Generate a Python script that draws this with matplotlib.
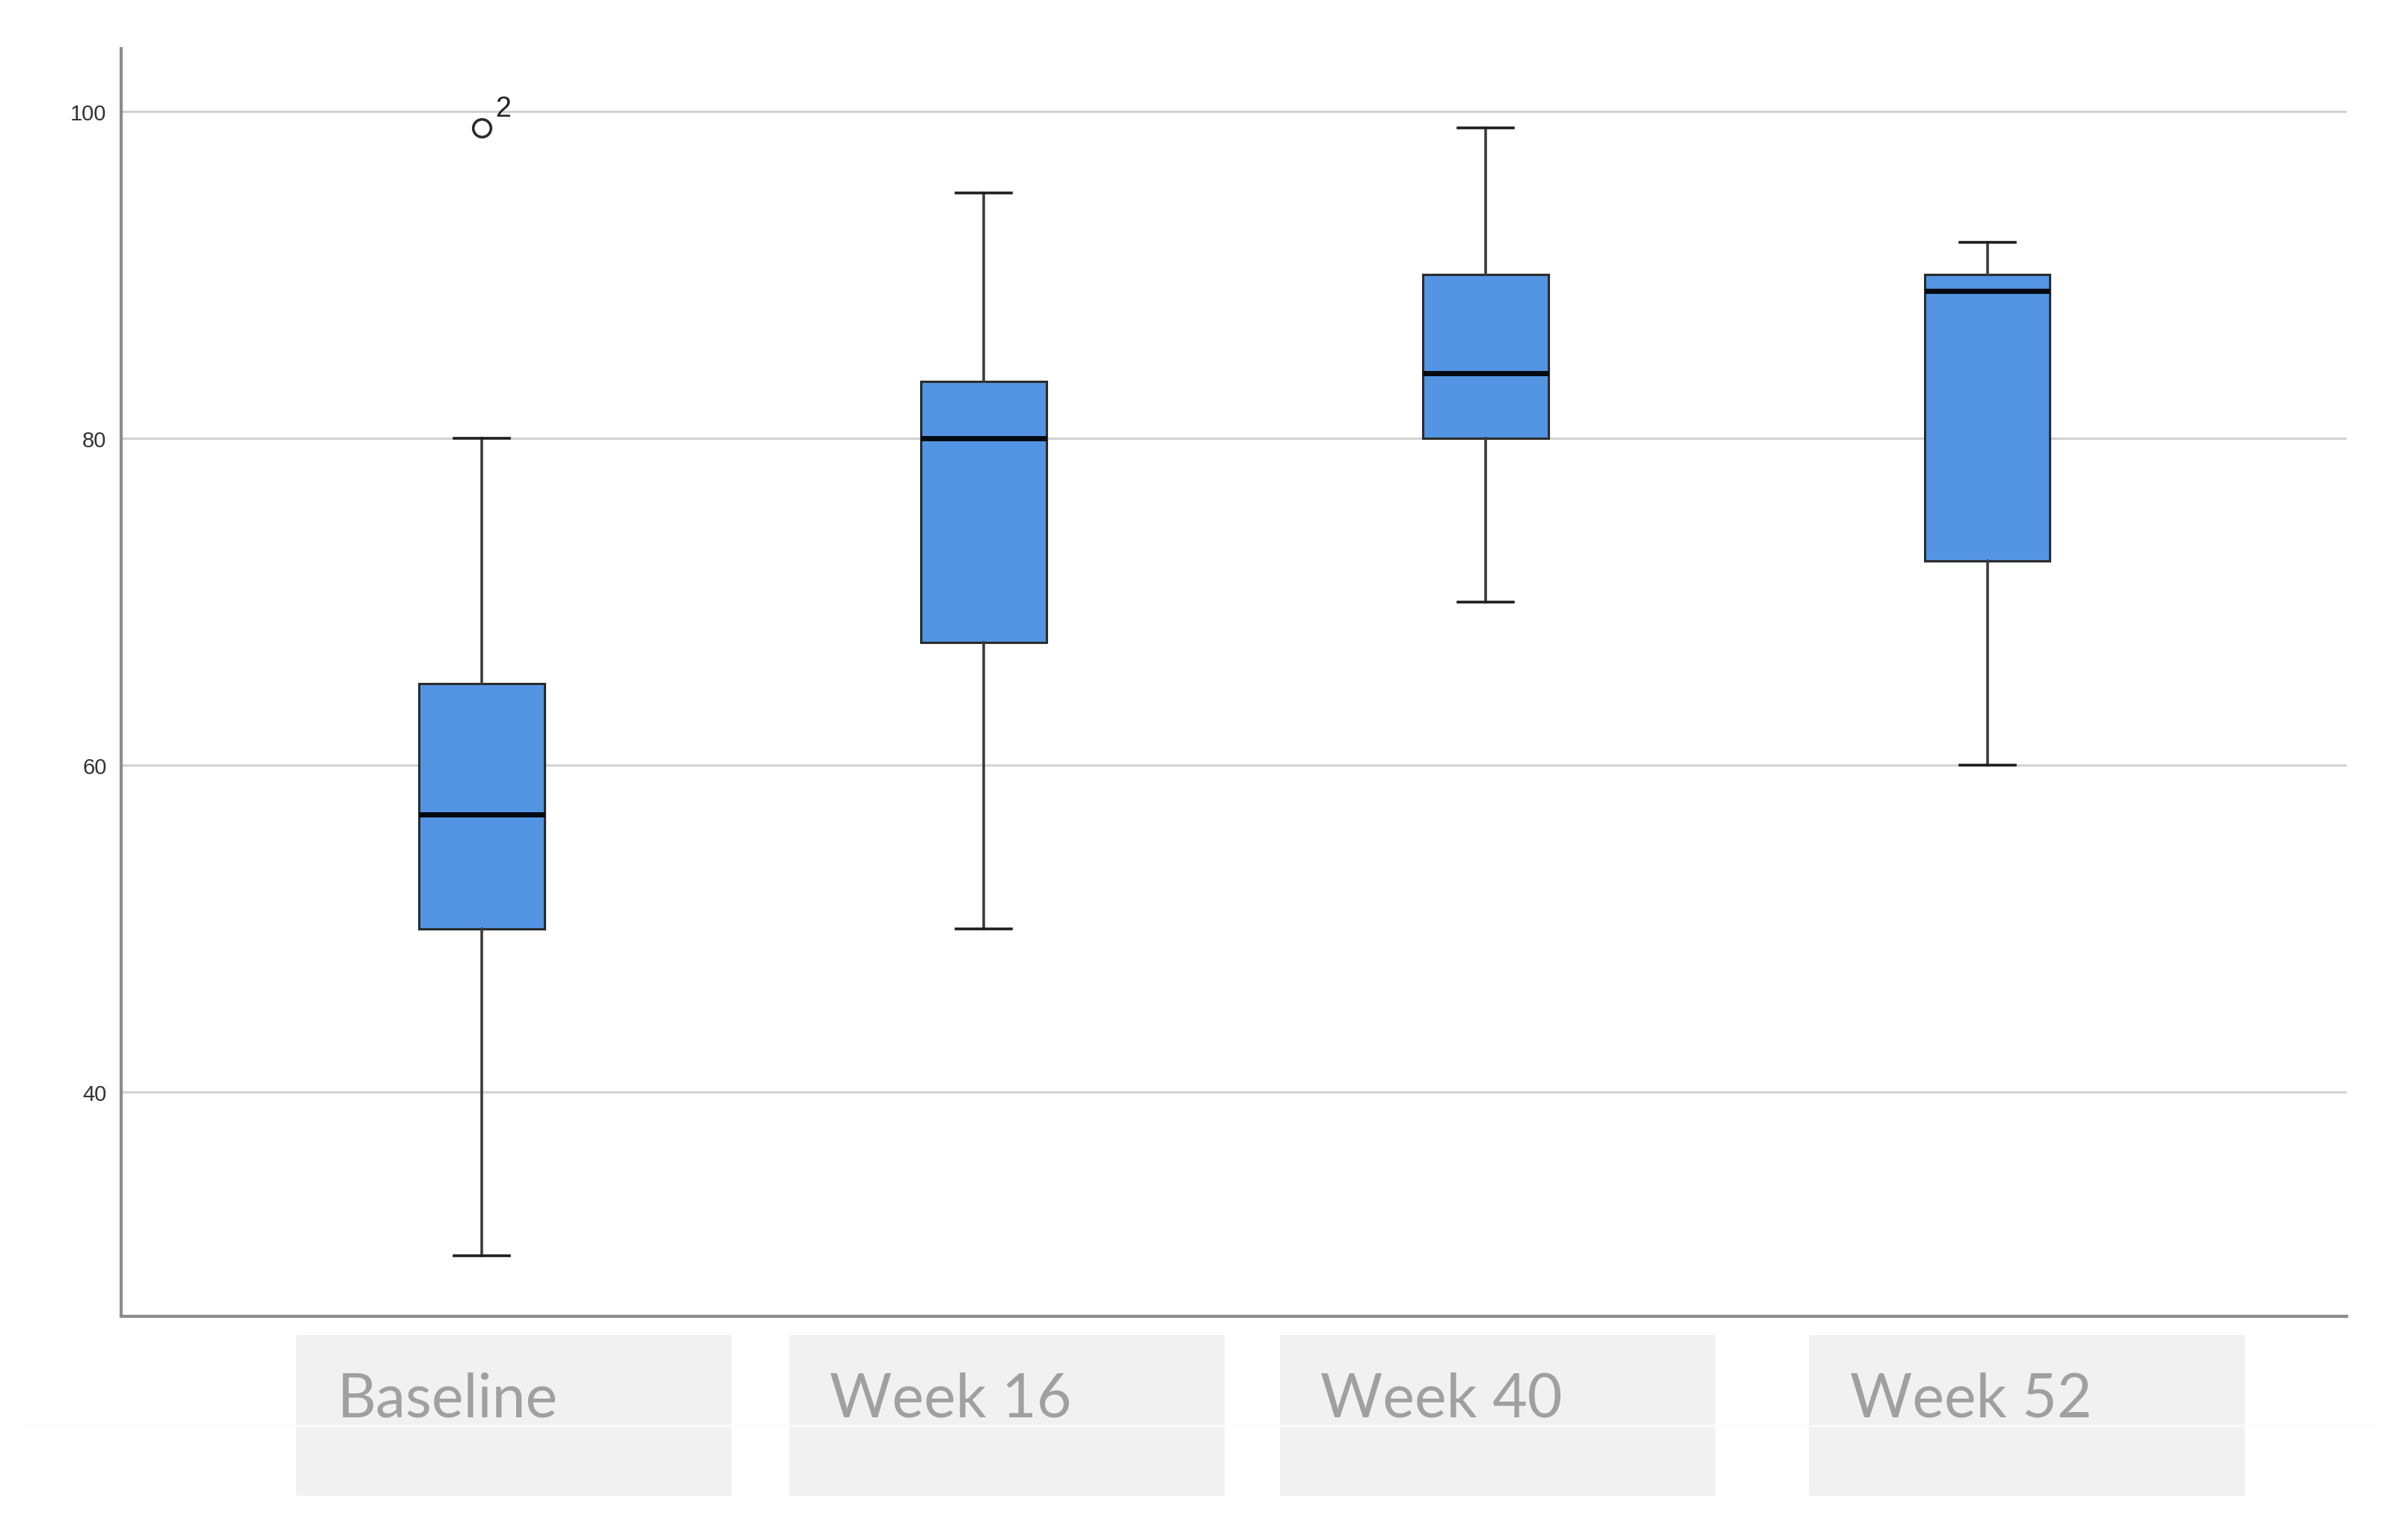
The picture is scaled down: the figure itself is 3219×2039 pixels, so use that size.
import matplotlib
matplotlib.use("Agg")
import matplotlib.pyplot as plt
import matplotlib.transforms as mtransforms
from matplotlib.patches import Rectangle

# values
categories = ["Baseline", "Week 16", "Week 40", "Week 52"]
whisker_low = [30, 50, 70, 60]
q1 = [50, 67.5, 80, 72.5]
median = [57, 80, 84, 89]
q3 = [65, 83.5, 90, 90]
whisker_high = [80, 95, 99, 92]
outliers = [[99], [], [], []]
outlier_ids = [["2"], [], [], []]
yticks = [40, 60, 80, 100]

# left edge of each grey label box, relative to the box-plot centre
label_shift = [-0.37, -0.388, -0.41, -0.355]

fig = plt.figure(figsize=(32.19, 20.40), dpi=100)
ax = fig.add_axes([0.0503, 0.1368, 0.9242, 0.831])

stats = []
for i, name in enumerate(categories):
    stats.append({
        "label": name, "whislo": whisker_low[i], "q1": q1[i], "med": median[i],
        "q3": q3[i], "whishi": whisker_high[i], "fliers": outliers[i],
    })

positions = list(range(1, len(categories) + 1))
ax.bxp(stats, positions=positions, widths=0.25, patch_artist=True,
       showfliers=True, zorder=3,
       boxprops=dict(facecolor="#5394e3", edgecolor="#2b2b2b", linewidth=2.2),
       medianprops=dict(color="#050a12", linewidth=5),
       whiskerprops=dict(color="#3c3c3c", linewidth=2.6),
       capprops=dict(color="#1e1e1e", linewidth=2.6),
       capwidths=0.11,
       flierprops=dict(marker="o", markerfacecolor="none", markeredgecolor="#2a2a2a",
                       markersize=17, markeredgewidth=2.6))

# outlier case labels
for i, ids in enumerate(outlier_ids):
    for val, lab in zip(outliers[i], ids):
        ax.annotate(lab, (positions[i], val), xytext=(13, 11), textcoords="offset points",
                    fontsize=27, color="#222222", family="Liberation Sans")

ax.set_xlim(0.281, 4.716)
ax.set_ylim(26.3, 103.85)
ax.set_yticks(yticks)
ax.set_yticklabels([str(t) for t in yticks], fontsize=21, color="#333333",
                   family="Liberation Sans")
ax.tick_params(axis="y", length=0, pad=14)
ax.set_xticks([])
ax.yaxis.grid(True, color="#d2d2d2", linewidth=2.2, zorder=0)
ax.set_axisbelow(True)

for s in ["top", "right"]:
    ax.spines[s].set_visible(False)
for s in ["left", "bottom"]:
    ax.spines[s].set_color("#8c8c8c")
    ax.spines[s].set_linewidth(3)

# grey label boxes under the axis
trans = mtransforms.blended_transform_factory(ax.transData, ax.transAxes)
for i, name in enumerate(categories):
    left = positions[i] + label_shift[i]
    ax.add_patch(Rectangle((left, -0.1416), 0.868, 0.127, transform=trans,
                           facecolor="#f1f1f1", edgecolor="none", clip_on=False))
    ax.text(left + 0.081, -0.0655, name, transform=trans, fontsize=58,
            color="#a0a0a0", family="Lato", ha="left", va="center")

# faint seam across the label strip
fig.add_artist(plt.Line2D([0.01, 0.985], [0.065, 0.065], color="#fbfbfb",
                          linewidth=2, transform=fig.transFigure))

fig.savefig("out.png", dpi=100, facecolor="white")
